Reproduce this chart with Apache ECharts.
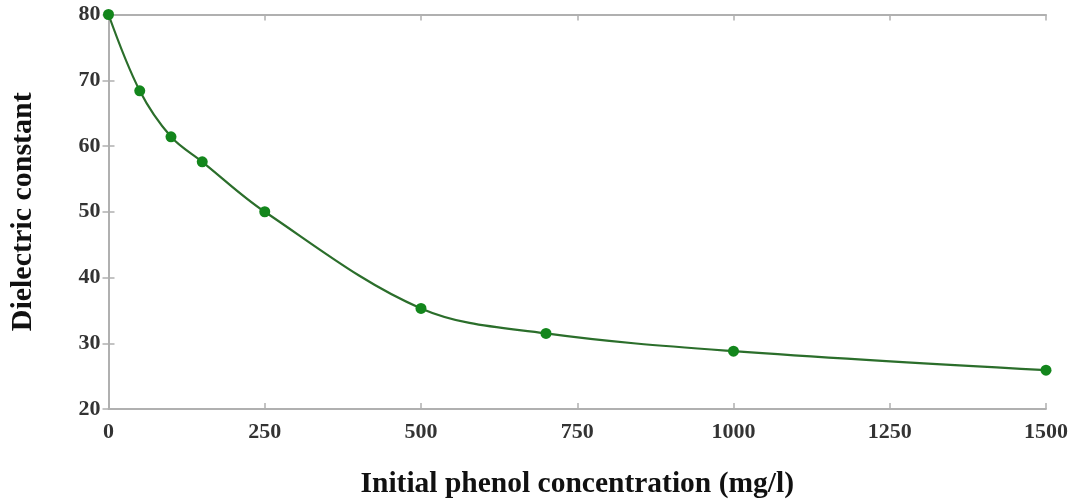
<!DOCTYPE html>
<html>
<head>
<meta charset="utf-8">
<script src="https://cdn.jsdelivr.net/npm/echarts@6/dist/echarts.min.js"></script>
<style>html,body{margin:0;padding:0;background:#fff;}#c{width:1075px;height:502px;}</style>
</head>
<body>
<div id="c"></div>
<script>
const concentration = [0, 50, 100, 150, 250, 500, 700, 1000, 1500];
const dielectric = [80, 68.4, 61.4, 57.6, 50.0, 35.3, 31.5, 28.8, 25.9];
const xTitle = 'Initial phenol concentration (mg/l)';
const yTitle = 'Dielectric constant';

const font = '"Liberation Serif", "Times New Roman", serif';
const axisGray = '#b0b0b0';
const chart = echarts.init(document.getElementById('c'));
const baseAxis = {
  axisLine: {show: true, lineStyle: {color: axisGray, width: 1.8}},
  axisTick: {show: true, inside: true, length: 6, lineStyle: {color: axisGray, width: 1.5}},
  splitLine: {show: false}
};
chart.setOption({
  animation: false,
  grid: {left: 108.5, right: 29, top: 14.5, bottom: 93, show: false, containLabel: false, outerBoundsMode: 'none'},
  xAxis: [
    Object.assign({}, baseAxis, {
      type: 'value', min: 0, max: 1500, interval: 250, position: 'bottom',
      name: xTitle, nameLocation: 'middle', nameGap: 60,
      nameTextStyle: {fontFamily: font, fontWeight: 'bold', fontSize: 29.5, color: '#111'},
      axisLabel: {fontFamily: font, fontWeight: 'bold', fontSize: 22, color: '#333', margin: 12,
                  formatter: v => String(v)}
    }),
    Object.assign({}, baseAxis, {
      type: 'value', min: 0, max: 1500, interval: 250, position: 'top',
      axisLabel: {show: false}
    })
  ],
  yAxis: [
    Object.assign({}, baseAxis, {
      type: 'value', min: 20, max: 80, interval: 10, position: 'left',
      name: yTitle, nameLocation: 'middle', nameGap: 70,
      nameTextStyle: {fontFamily: font, fontWeight: 'bold', fontSize: 30, color: '#111'},
      axisLabel: {fontFamily: font, fontWeight: 'bold', fontSize: 22, color: '#333', margin: 8}
    }),
    Object.assign({}, baseAxis, {
      type: 'value', min: 20, max: 80, interval: 10, position: 'right',
      axisLabel: {show: false}
    })
  ],
  series: [{
    type: 'line',
    data: concentration.map((c, i) => [c, dielectric[i]]),
    smooth: 0.35,
    symbol: 'circle',
    symbolSize: 11,
    lineStyle: {color: '#2b6e2b', width: 2.2},
    itemStyle: {color: '#13861c'},
    clip: false
  }]
});
</script>
</body>
</html>
